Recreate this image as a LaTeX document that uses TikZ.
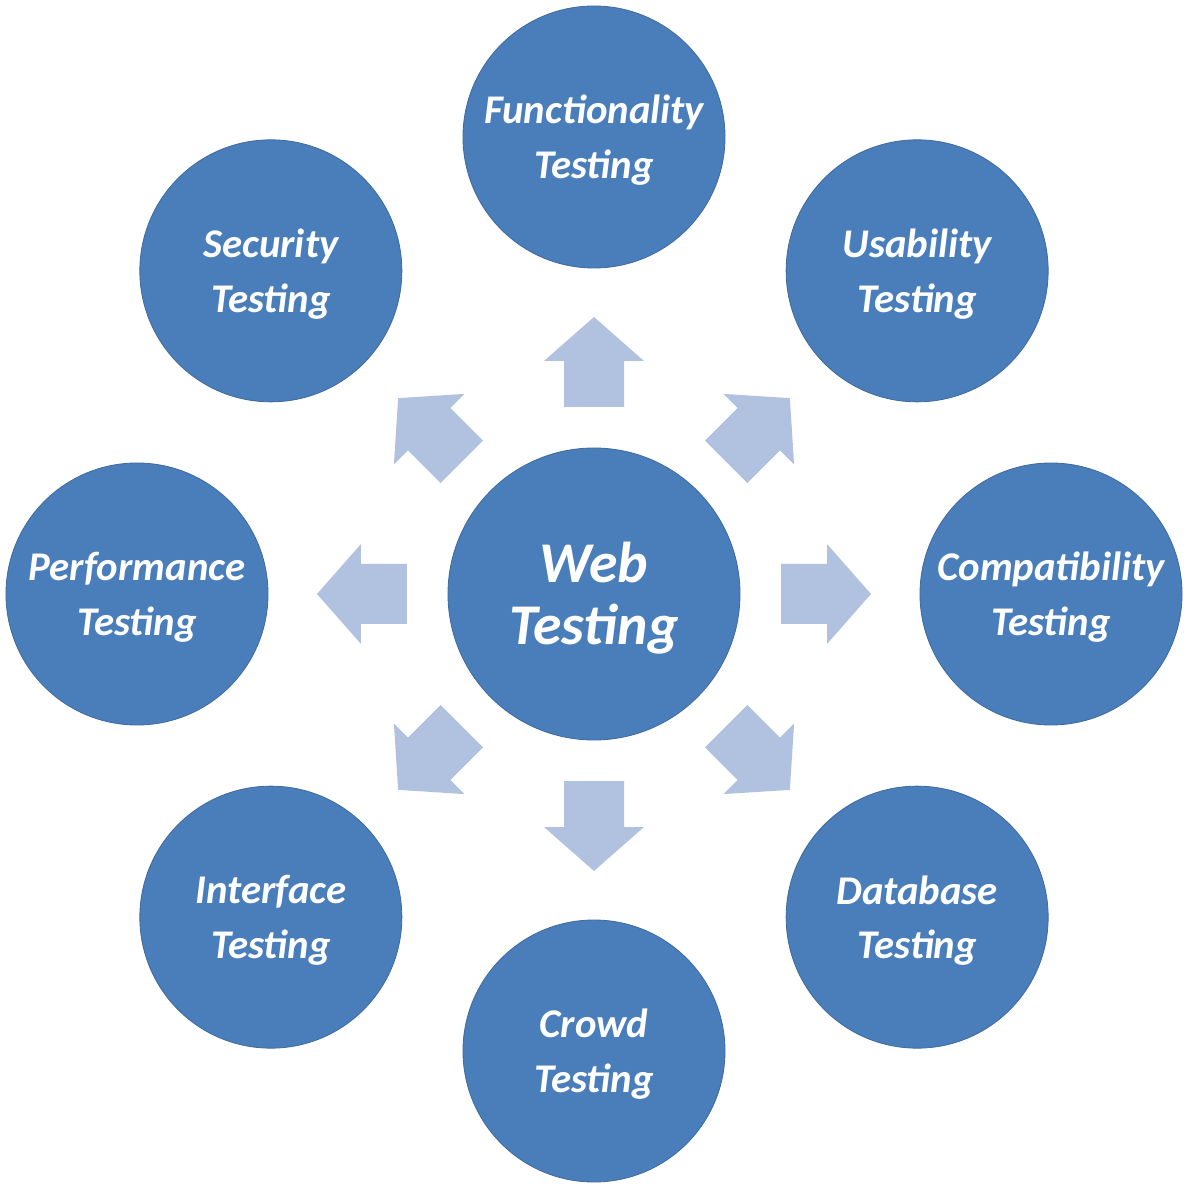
\documentclass[tikz,border=0pt]{standalone}
\usepackage{fontspec}
\setmainfont{Carlito}
\definecolor{circblue}{RGB}{74,126,187}
\definecolor{arrowblue}{RGB}{176,194,224}
\tikzset{
	testcircle/.style={circle,fill=circblue,draw=circblue!85!black,line width=.6pt,minimum size=6.55cm,inner sep=0pt,text=white,align=center,text depth=-.45cm,font=\fontsize{29}{39}\selectfont\bfseries\itshape},
	webcircle/.style={testcircle,minimum size=7.3cm,text depth=.04cm,font=\fontsize{41}{44}\selectfont\bfseries\itshape},
	blockarrow/.pic={%block arrow pointing outwards
		\fill[arrowblue] (4.675,-.75)--(5.825,-.75)--(5.825,-1.25)--(6.925,0)--(5.825,1.25)--(5.825,.75)--(4.675,.75)--cycle;
	}
}
\begin{document}
\begin{tikzpicture}[line join=round]
	\useasboundingbox (-14.85,-15.15) rectangle (14.925,14.85);
	%%%% arrows
	\foreach \a in {0,45,...,315}
	\path (0,0) pic[rotate=\a]{blockarrow};
	%%%% circles
	\node[webcircle] (web) at (0,0) {Web\\Testing};
	\node[testcircle] (func) at (90:11.425) {Functionality\\Testing};
	\node[testcircle] (usab) at (45:11.425) {Usability\\Testing};
	\node[testcircle] (compat) at (0:11.425) {Compatibility\\Testing};
	\node[testcircle] (datab) at (-45:11.425) {Database\\Testing};
	\node[testcircle] (crowd) at (-90:11.425) {Crowd\\Testing};
	\node[testcircle] (interf) at (-135:11.425) {Interface\\Testing};
	\node[testcircle] (perf) at (180:11.425) {Performance\\Testing};
	\node[testcircle] (secur) at (135:11.425) {Security\\Testing};
\end{tikzpicture}
\end{document}
